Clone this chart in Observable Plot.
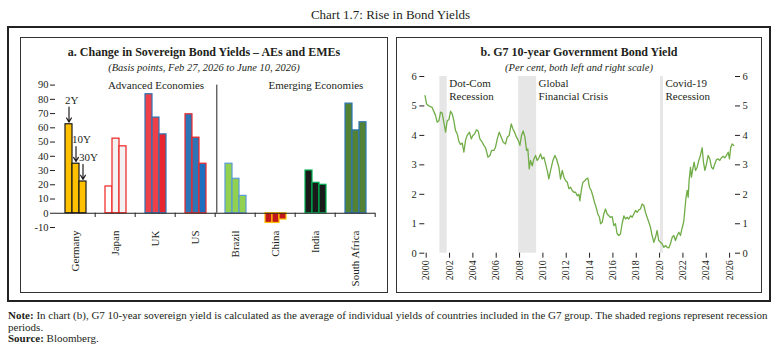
<!DOCTYPE html>
<html>
<head>
<meta charset="utf-8">
<script src="https://cdn.jsdelivr.net/npm/d3@7"></script>
<script src="https://cdn.jsdelivr.net/npm/@observablehq/plot@0.6"></script>
<style>
  body { margin: 0; background: #fff; font-family: "Liberation Serif", "DejaVu Serif", serif; color: #231f20; }
  #page { position: relative; width: 781px; height: 353px; overflow: hidden; }
  .abs { position: absolute; }
  #title { left: 0; width: 781px; top: 7px; text-align: center; font-size: 13px; line-height: 16px; }
  #outer { left: 7px; top: 26px; width: 760px; height: 272px; border: 2px solid #222; }
  .panel { top: 37px; height: 254px; border: 1px solid #333; }
  #pa { left: 20px; width: 366px; }
  #pb { left: 396px; width: 364px; }
  .ptitle { left: 0; right: 0; text-align: center; font-weight: bold; font-size: 12px; line-height: 14px; }
  .psub { left: 0; right: 0; text-align: center; font-style: italic; font-size: 10.5px; line-height: 13px; }
  #notes { left: 8px; top: 310px; width: 772px; font-size: 11px; line-height: 11.5px; white-space: nowrap; }
</style>
</head>
<body>
<div id="page">
  <div id="title" class="abs">Chart 1.7: Rise in Bond Yields</div>
  <div id="outer" class="abs"></div>
  <div id="pa" class="abs panel">
    <div class="abs ptitle" style="top:7px">a. Change in Sovereign Bond Yields – AEs and EMEs</div>
    <div class="abs psub" style="top:23px">(Basis points, Feb 27, 2026 to June 10, 2026)</div>
    <div id="chartA" class="abs" style="left:0;top:38px"></div>
  </div>
  <div id="pb" class="abs panel">
    <div class="abs ptitle" style="top:7px">b. G7 10-year Government Bond Yield</div>
    <div class="abs psub" style="top:23px">(Per cent, both left and right scale)</div>
    <div id="chartB" class="abs" style="left:0;top:34px"></div>
  </div>
  <div id="notes" class="abs"><b>Note:</b> In chart (b), G7 10-year sovereign yield is calculated as the average of individual yields of countries included in the G7 group. The shaded regions represent recession<br>periods.<br><b>Source:</b> Bloomberg.</div>
</div>
<script>
// ---------- Data: panel a ----------
const countries = ["Germany", "Japan", "UK", "US", "Brazil", "China", "India", "South Africa"];
const tenors = ["2Y", "10Y", "30Y"];
const change2Y  = [62.5, 18.8, 83.6, 69.5, 34.8, -6.8, 30.0, 77.0];
const change10Y = [34.8, 52.4, 67.2, 53.1, 24.2, -6.8, 21.4, 58.2];
const change30Y = [22.3, 47.0, 55.4, 34.8, 12.2, -4.4, 20.0, 63.9];
const yTicksA = [-10, 0, 10, 20, 30, 40, 50, 60, 70, 80, 90];
const groupLabels = ["Advanced Economies", "Emerging Economies"];
const groupLabelCountry = ["UK", "India"];
const firstEmerging = "Brazil";
const annotatedCountry = "Germany";

// ---------- Data: panel b ----------
const years = [1999.9, 2000.03, 2000.23, 2000.51, 2000.80, 2000.94, 2001.09, 2001.23, 2001.37, 2001.51, 2001.66, 2001.80, 2001.94,
  2002.09, 2002.23, 2002.37, 2002.51, 2002.66, 2002.80, 2002.94, 2003.09, 2003.23, 2003.37, 2003.51, 2003.71, 2003.86,
  2004.00, 2004.14, 2004.31, 2004.46, 2004.60, 2004.80, 2004.94, 2005.09, 2005.29, 2005.46, 2005.60, 2005.80, 2005.94,
  2006.09, 2006.26, 2006.43, 2006.60, 2006.80, 2006.94, 2007.11, 2007.29, 2007.43, 2007.57, 2007.74, 2007.89,
  2008.03, 2008.17, 2008.31, 2008.46, 2008.60, 2008.71, 2008.83, 2008.94, 2009.09, 2009.23, 2009.37, 2009.51, 2009.66, 2009.80, 2009.94,
  2010.09, 2010.23, 2010.37, 2010.51, 2010.66, 2010.86, 2011.03, 2011.17, 2011.37, 2011.51, 2011.66, 2011.80, 2011.94,
  2012.09, 2012.23, 2012.37, 2012.51, 2012.66, 2012.80, 2012.94, 2013.09, 2013.17, 2013.29, 2013.43, 2013.57, 2013.71, 2013.85, 2013.99,
  2014.14, 2014.28, 2014.42, 2014.56, 2014.71, 2014.85, 2014.94, 2015.08, 2015.22, 2015.36, 2015.51, 2015.65, 2015.79, 2015.94,
  2016.08, 2016.22, 2016.36, 2016.51, 2016.65, 2016.79, 2016.94, 2017.08, 2017.22, 2017.36, 2017.51, 2017.65, 2017.79, 2017.94,
  2018.08, 2018.22, 2018.36, 2018.51, 2018.65, 2018.79, 2018.93, 2019.08, 2019.22, 2019.36, 2019.51, 2019.65, 2019.79, 2019.93,
  2020.08, 2020.22, 2020.36, 2020.51, 2020.65, 2020.79, 2020.93, 2021.08, 2021.22, 2021.36, 2021.51, 2021.65, 2021.79, 2021.88, 2021.99,
  2022.08, 2022.16, 2022.25, 2022.36, 2022.45, 2022.53, 2022.65, 2022.73, 2022.85, 2022.96, 2023.08, 2023.22, 2023.36, 2023.50, 2023.65, 2023.76, 2023.88,
  2024.02, 2024.16, 2024.30, 2024.45, 2024.59, 2024.73, 2024.88, 2025.02, 2025.16, 2025.30, 2025.45, 2025.59, 2025.73, 2025.88, 2025.99,
  2026.10, 2026.22, 2026.36];
const g7Yield = [5.35, 5.07, 5.00, 4.95, 4.68, 4.45, 4.50, 4.79, 4.76, 4.45, 4.11, 4.50, 4.53,
  4.82, 4.73, 4.50, 4.17, 4.05, 3.80, 3.69, 3.74, 3.43, 3.83, 4.00, 4.11, 3.88,
  4.00, 4.05, 4.19, 4.14, 3.88, 3.77, 3.66, 3.58, 3.26, 3.32, 3.49, 3.49, 3.60,
  3.88, 4.11, 3.94, 3.77, 3.71, 3.94, 4.00, 4.39, 4.22, 4.11, 3.94, 3.83,
  3.66, 4.00, 4.15, 3.94, 3.49, 3.54, 2.86, 3.15, 2.97, 3.20, 3.32, 3.15, 3.24, 3.37, 3.20,
  3.26, 3.03, 2.81, 2.52, 2.81, 3.15, 3.32, 3.20, 2.92, 2.52, 2.81, 2.58, 2.47,
  2.41, 2.19, 2.24, 2.13, 2.07, 2.07, 1.95, 2.00, 1.78, 2.13, 2.41, 2.45, 2.52, 2.55, 2.24,
  2.13, 1.95, 1.73, 1.56, 1.33, 1.22, 1.00, 1.05, 1.33, 1.50, 1.33, 1.27, 1.22, 1.24,
  0.94, 1.00, 0.66, 0.60, 0.66, 1.00, 1.27, 1.16, 1.22, 1.16, 1.27, 1.22, 1.33, 1.45,
  1.39, 1.47, 1.50, 1.67, 1.62, 1.39, 1.22, 1.05, 0.88, 0.60, 0.37, 0.54, 0.77, 0.43,
  0.37, 0.32, 0.20, 0.26, 0.20, 0.18, 0.32, 0.54, 0.60, 0.43, 0.60, 0.71, 0.60, 0.77, 0.94,
  1.11, 1.45, 1.84, 2.13, 1.90, 2.47, 2.92, 2.58, 2.86, 3.09, 2.81, 2.92, 3.15, 3.32, 3.58, 3.09, 2.81,
  3.03, 3.32, 3.20, 2.92, 2.86, 3.03, 3.18, 3.20, 3.15, 3.24, 3.29, 3.24, 3.32, 3.43, 3.20,
  3.60, 3.71, 3.66];
const recessionStart = [2001.17, 2007.92, 2020.08];
const recessionEnd = [2001.80, 2009.46, 2020.33];
const recessionLabels = ["Dot-Com\nRecession", "Global\nFinancial Crisis", "Covid-19\nRecession"];
const xTicksB = [2000, 2002, 2004, 2006, 2008, 2010, 2012, 2014, 2016, 2018, 2020, 2022, 2024, 2026];
const yTicksB = [0, 1, 2, 3, 4, 5, 6];
const xDomainB = [1999.88, 2026.42];

// ---------- Styles ----------
const FONT = '"Liberation Serif", "DejaVu Serif", serif';
const INK = "#231f20";
const barFill = {
  "Germany": ["#FFC000", "#FFC000", "#FFC000"],
  "Japan": ["#FFFFFF", "#F2F2F2", "#F2F2F2"],
  "UK": ["#EE4048", "#EE4048", "#E8262E"],
  "US": ["#2E75B6", "#2E75B6", "#1F6FC0"],
  "Brazil": ["#92D050", "#92D050", "#92D050"],
  "China": ["#C0161C", "#C0161C", "#C0161C"],
  "India": ["#1A1A1A", "#1A1A1A", "#1A1A1A"],
  "South Africa": ["#548235", "#548235", "#548235"]
};
const barStroke = {
  "Germany": "#1A1A1A", "Japan": "#F02020", "UK": "#2E75B6", "US": "#F02828",
  "Brazil": "#5B9BD5", "China": "#FFC000", "India": "#00B050", "South Africa": "#2E75B6"
};
const lineColor = "#70AD47";
const shadeColor = "#E6E6E6";
const plainNumber = d => String(d);

// ---------- Panel a ----------
const series = [change2Y, change10Y, change30Y];
const bars = countries.flatMap((c, i) => tenors.map((t, j) => ({
  country: c, tenor: t, value: series[j][i], fill: barFill[c][j], stroke: barStroke[c]
})));
const ann = bars.filter(d => d.country === annotatedCountry);
const groups = groupLabels.map((g, k) => ({label: g, country: groupLabelCountry[k]}));

const WA = 366, HA = 216, mLA = 32, mRA = 11, mTA = 8.6, mBA = 65;
const po = 1.02;
const facetStep = (WA - mLA - mRA) / countries.length;
const barStep = facetStep / (tenors.length + 2 * po);
const yMaxA = yTicksA[yTicksA.length - 1];

const chartA = Plot.plot({
  width: WA, height: HA,
  marginLeft: mLA, marginRight: mRA, marginTop: mTA, marginBottom: mBA,
  style: {fontFamily: FONT, fontSize: "10.5px", color: INK, background: "transparent", overflow: "visible"},
  fx: {domain: countries, padding: 0, label: null},
  x: {domain: tenors, paddingInner: 0, paddingOuter: po, axis: null},
  y: {domain: [yTicksA[0], yMaxA], label: null},
  color: {type: "identity"},
  marks: [
    Plot.axisY({ticks: yTicksA, tickFormat: plainNumber, tickSize: 5, tickPadding: 2, label: null, line: true, stroke: INK, fontSize: 10.5}),
    Plot.axisFx({anchor: "bottom", tickSize: 0, tickRotate: -90, tickPadding: 3, label: null, fontSize: 11}),
    Plot.barY(bars, {fx: "country", x: "tenor", y: "value", fill: "fill", stroke: "stroke", strokeWidth: 1.2}),
    Plot.ruleY([0], {stroke: INK, strokeWidth: 1}),
    Plot.ruleX(countries, {fx: d => d, x: () => tenors[2], y1: 0, y2: yTicksA[0], insetBottom: 10,
      dx: facetStep - (po + 2.5) * barStep, stroke: INK}),
    Plot.ruleX([firstEmerging], {fx: d => d, x: () => tenors[0], y1: 0, y2: yMaxA,
      dx: -(po + 0.5) * barStep, stroke: INK}),
    Plot.text(groups, {fx: "country", x: () => tenors[1], y: () => yMaxA, text: "label", fontSize: 11, fill: INK}),
    Plot.arrow(ann, {fx: "country", x: "tenor", y1: d => d.value + 12, y2: d => d.value + 1.5,
      stroke: INK, strokeWidth: 1.2, headLength: 6}),
    Plot.text(ann, {fx: "country", x: "tenor", y: d => d.value + 17, text: "tenor", textAnchor: "start",
      dx: -barStep / 2, fontSize: 11, fill: INK})
  ]
});
document.getElementById("chartA").append(chartA);

// ---------- Panel b ----------
const line = years.map((y, i) => ({year: y, value: g7Yield[i]}));
const recs = recessionStart.map((s, i) => ({start: s, end: recessionEnd[i], label: recessionLabels[i]}));
const yMaxB = yTicksB[yTicksB.length - 1];

const chartB = Plot.plot({
  width: 364, height: 220,
  marginLeft: 27.3, marginRight: 27, marginTop: 4, marginBottom: 39.3,
  style: {fontFamily: FONT, fontSize: "10.5px", color: INK, background: "transparent", overflow: "visible"},
  x: {domain: xDomainB, label: null},
  y: {domain: [0, yMaxB], label: null},
  marks: [
    Plot.rectX(recs, {x1: "start", x2: "end", fill: shadeColor}),
    Plot.text(recs, {x: "end", y: () => yMaxB, text: "label", textAnchor: "start", lineAnchor: "top",
      dx: 2, dy: 1, lineHeight: 1.18, fontSize: 11, fill: INK}),
    Plot.lineY(line, {x: "year", y: "value", stroke: lineColor, strokeWidth: 1.3}),
    Plot.axisY({anchor: "left", ticks: yTicksB, tickFormat: plainNumber, tickSize: 5, tickPadding: 3, line: true, label: null, fontSize: 10.5}),
    Plot.axisY({anchor: "right", ticks: yTicksB, tickFormat: plainNumber, tickSize: 5, tickPadding: 3, line: true, label: null, fontSize: 10.5}),
    Plot.axisX({ticks: xTicksB, tickSize: 5, tickRotate: -90, tickPadding: 2, tickFormat: plainNumber,
      line: true, label: null, fontSize: 10})
  ]
});
document.getElementById("chartB").append(chartB);
</script>
</body>
</html>
